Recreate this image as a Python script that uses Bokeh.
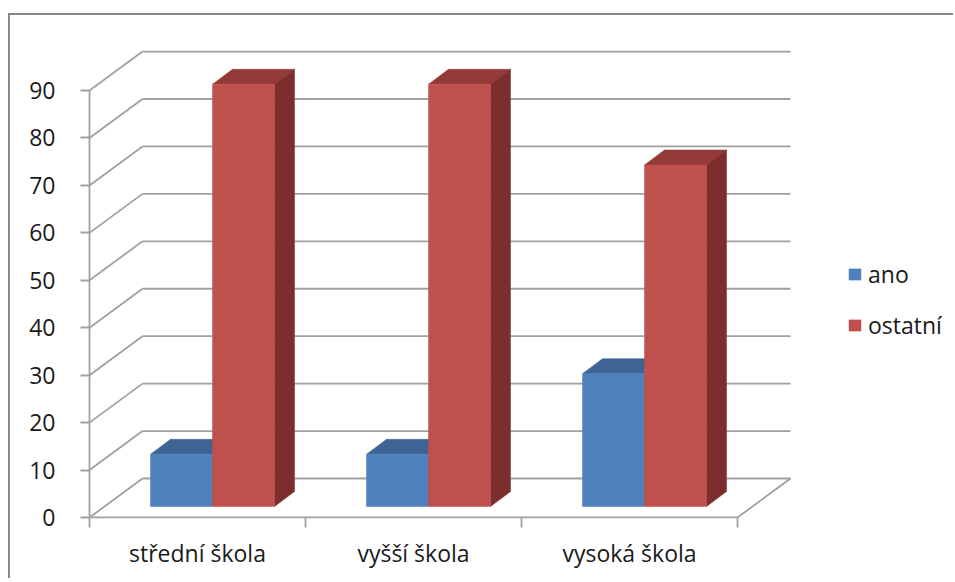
from bokeh.plotting import figure
from bokeh.models import ColumnDataSource, FixedTicker, Legend, LegendItem, Range1d
from bokeh.embed import file_html
from bokeh.resources import INLINE

# ---------------- data ----------------
categories = ["střední škola", "vyšší škola", "vysoká škola"]
series_names = ["ano", "ostatní"]
ano = [11, 11, 28]
ostatni = [89, 89, 72]
y_ticks = [0, 10, 20, 30, 40, 50, 60, 70, 80, 90]

# ---------------- geometry / style ----------------
PX_X = 216.0   # pixels per category
PX_Y = 4.744   # pixels per value unit
WALL_DX, WALL_DY = 53 / PX_X, 39 / PX_Y
BAR_OX, BAR_OY = 15 / PX_X, 11 / PX_Y
BAR_DX, BAR_DY = 20 / PX_X, 15 / PX_Y
BAR_W = 62 / PX_X

W, H = 945, 565
ML, MB = 77, 62
FW, FH = W - ML, H - MB
x0r = -2 / PX_X
y0r = -1 / PX_Y

FONT = "Open Sans"
FS = "23px"
TXT = "#1a1a1a"
GRID = "#a0a0a0"
LW = 1.8

colors = {
    "ano": ("#4F81BD", "#3D6494", "#2F4E75"),
    "ostatní": ("#C0504D", "#943A38", "#7C2E2D"),
}

p = figure(width=W, height=H, output_backend="svg", toolbar_location=None,
           x_range=Range1d(x0r, x0r + FW / PX_X), y_range=Range1d(y0r, y0r + FH / PX_Y),
           min_border_left=ML, min_border_right=0, min_border_top=0, min_border_bottom=MB)
p.outline_line_color = None
p.xgrid.visible = False
p.ygrid.visible = False
p.styles = {"border-top": "2px solid #888888", "border-left": "2px solid #888888",
            "margin-top": "13px", "margin-left": "8px"}

n = len(categories)
ymax = y_ticks[-1]

# back wall horizontal lines
p.segment(x0=[WALL_DX] * len(y_ticks), y0=[v + WALL_DY for v in y_ticks],
          x1=[n + WALL_DX] * len(y_ticks), y1=[v + WALL_DY for v in y_ticks],
          line_color=GRID, line_width=LW)
# side wall diagonals
p.segment(x0=[0] * len(y_ticks), y0=y_ticks,
          x1=[WALL_DX] * len(y_ticks), y1=[v + WALL_DY for v in y_ticks],
          line_color=GRID, line_width=LW)
# floor right edge, front edge, front axis line
p.segment(x0=[n, 0, 0], y0=[0, 0, 0], x1=[n + WALL_DX, n, 0], y1=[WALL_DY, 0, ymax],
          line_color=GRID, line_width=LW)

front_renderers = []
for s, (name, vals) in enumerate(zip(series_names, [ano, ostatni])):
    cf, ct, cs = colors[name]
    lefts, rights, bottoms, tops = [], [], [], []
    top_xs, top_ys, side_xs, side_ys = [], [], [], []
    for i, v in enumerate(vals):
        xa = i + 0.5 - BAR_W + s * BAR_W + BAR_OX
        xb = xa + BAR_W
        yb = BAR_OY
        yt = BAR_OY + v
        lefts.append(xa); rights.append(xb); bottoms.append(yb); tops.append(yt)
        top_xs.append([xa, xb, xb + BAR_DX, xa + BAR_DX])
        top_ys.append([yt, yt, yt + BAR_DY, yt + BAR_DY])
        side_xs.append([xb, xb + BAR_DX, xb + BAR_DX, xb])
        side_ys.append([yb, yb + BAR_DY, yt + BAR_DY, yt])
    p.patches(top_xs, top_ys, fill_color=ct, line_color=ct, line_width=0.5)
    p.patches(side_xs, side_ys, fill_color=cs, line_color=cs, line_width=0.5)
    r = p.quad(left=lefts, right=rights, bottom=bottoms, top=tops,
               fill_color=cf, line_color=cf, line_width=0.5)
    front_renderers.append(r)

# axes
p.yaxis.ticker = FixedTicker(ticks=y_ticks)
p.yaxis.axis_line_color = None
p.yaxis.major_tick_line_color = GRID
p.yaxis.major_tick_line_width = LW
p.yaxis.major_tick_out = 7
p.yaxis.major_tick_in = 2
p.yaxis.minor_tick_line_color = None
p.yaxis.major_label_standoff = 25
p.yaxis.major_label_text_font = FONT
p.yaxis.major_label_text_font_size = FS
p.yaxis.major_label_text_color = TXT

p.xaxis.ticker = FixedTicker(ticks=[i + 0.5 for i in range(n)], minor_ticks=list(range(n + 1)))
p.xaxis.major_label_overrides = {i + 0.5: c for i, c in enumerate(categories)}
p.xaxis.axis_line_color = None
p.xaxis.major_tick_line_color = None
p.xaxis.major_tick_out = 0
p.xaxis.major_tick_in = 0
p.xaxis.minor_tick_line_color = GRID
p.xaxis.minor_tick_line_width = LW
p.xaxis.minor_tick_out = 9
p.xaxis.minor_tick_in = 1
p.xaxis.major_label_standoff = 9
p.xaxis.major_label_text_font = FONT
p.xaxis.major_label_text_font_size = FS
p.xaxis.major_label_text_color = TXT

legend = Legend(items=[LegendItem(label=nm, renderers=[r]) for nm, r in zip(series_names, front_renderers)],
                location=(760, 177), glyph_width=15, glyph_height=14, label_standoff=6,
                label_text_font=FONT, label_text_font_size=FS, label_text_color=TXT,
                spacing=19, padding=0, margin=0, border_line_color=None,
                background_fill_alpha=0)
p.add_layout(legend)

open("out.html", "w").write(file_html(p, INLINE))
